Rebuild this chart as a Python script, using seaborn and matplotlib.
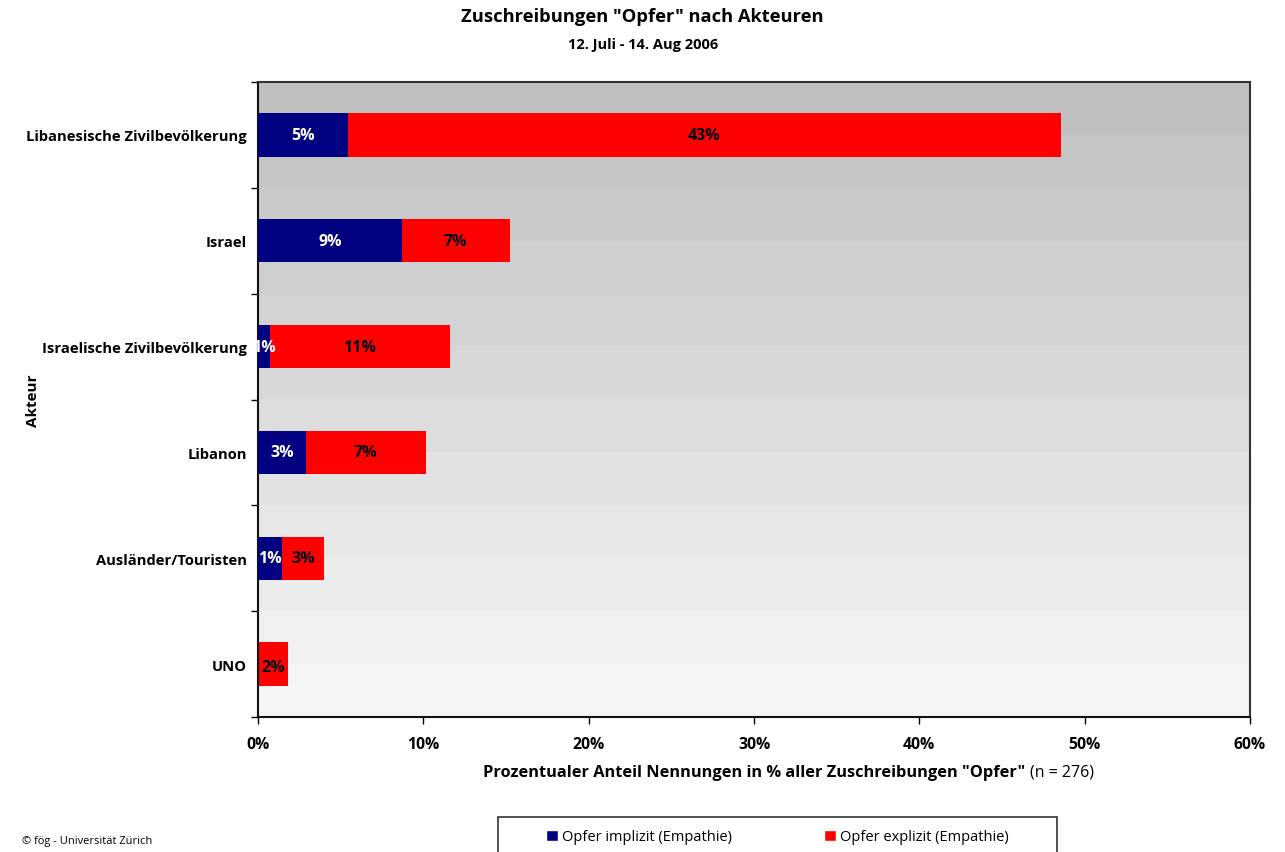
import numpy as np
import pandas as pd
import matplotlib.pyplot as plt
import seaborn as sns
from matplotlib.patches import Patch, Rectangle


# Data (n = 276)
akteure = ['Libanesische Zivilbevölkerung', 'Israel', 'Israelische Zivilbevölkerung',
           'Libanon', 'Ausländer/Touristen', 'UNO']
implizit = [5.43, 8.70, 0.72, 2.90, 1.45, 0.0]
explizit = [43.12, 6.52, 10.87, 7.25, 2.54, 1.81]

df = pd.DataFrame({'akteur': akteure, 'implizit': implizit, 'explizit': explizit})
df['total'] = df['implizit'] + df['explizit']

sns.set_style('white')
plt.rcParams['font.family'] = ['Open Sans', 'DejaVu Sans']
plt.rcParams['text.color'] = 'black'
plt.rcParams['xtick.color'] = 'black'
plt.rcParams['ytick.color'] = 'black'
plt.rcParams['axes.labelcolor'] = 'black'

fig = plt.figure(figsize=(12.85, 8.53), dpi=100)
ax = fig.add_axes([258/1285, 1-718/853, (1250-258)/1285, (718-83)/853])

# stepped grey gradient background
bands = np.linspace(0.753, 0.96, 12).reshape(-1, 1)
ax.imshow(bands, cmap='gray', vmin=0, vmax=1, aspect='auto',
          extent=[0, 60, 5.5, -0.5], zorder=0, interpolation='nearest')

sns.barplot(data=df, x='total', y='akteur', orient='h', color='#ff0000',
            width=0.41, saturation=1, linewidth=0, ax=ax, zorder=2)
sns.barplot(data=df, x='implizit', y='akteur', orient='h', color='#000080',
            width=0.41, saturation=1, linewidth=0, ax=ax, zorder=3)

for i, row in df.iterrows():
    if row['implizit'] > 0:
        ax.text(row['implizit']/2, i, f"{round(row['implizit']):.0f}%", ha='center', va='center',
                color='white', fontsize=11.5, fontweight='bold', zorder=4)
    ax.text(row['implizit'] + row['explizit']/2, i + (0.03 if row['implizit'] == 0 else 0),
            f"{round(row['explizit']):.0f}%", ha='center', va='center',
            color='black', fontsize=11.5, fontweight='bold', zorder=4)

ax.set_xlim(0, 60)
ax.set_ylim(5.5, -0.5)
ax.set_xticks(range(0, 61, 10))
ax.set_xticklabels([f'{v}%' for v in range(0, 61, 10)], fontsize=11.3, fontweight='bold')
ax.set_yticks(range(len(akteure)))
ax.set_yticklabels(akteure, fontsize=10.6, fontweight='bold')
ax.tick_params(axis='y', length=0, pad=8)
ax.tick_params(axis='x', length=5, width=1, direction='out', pad=9, bottom=True)
ax.set_yticks(np.arange(-0.5, 6, 1), minor=True)
ax.tick_params(axis='y', which='minor', length=5, width=1, direction='out', left=True)
ax.set_xlabel('')
ax.set_ylabel('Akteur', fontsize=11, fontweight='bold')
ax.yaxis.set_label_coords(-0.22, 0.5)

for side in ['left', 'bottom']:
    ax.spines[side].set_color('#111111')
    ax.spines[side].set_linewidth(1.5)
for side in ['top', 'right']:
    ax.spines[side].set_color('#333333')
    ax.spines[side].set_linewidth(1.5)

fig.text(642/1285, 1-17/853, 'Zuschreibungen "Opfer" nach Akteuren', ha='center', va='center',
         fontsize=13.2, fontweight='bold')
fig.text(643/1285, 1-45/853, '12. Juli - 14. Aug 2006', ha='center', va='center',
         fontsize=10.5, fontweight='bold')

fig.text(1025/1285, 1-773/853, 'Prozentualer Anteil Nennungen in % aller Zuschreibungen "Opfer"',
         ha='right', va='center', fontsize=11.8, fontweight='bold')
fig.text(1030/1285, 1-773/853, '(n = 276)', ha='left', va='center', fontsize=11.5)

fig.text(22/1285, 1-842/853, '© fög - Universität Zürich', ha='left', va='center', fontsize=8)

# legend box (runs off the bottom edge like the original)
fig.patches.append(Rectangle((498/1285, -0.02), (1057-498)/1285, 0.02 + 1-818/853,
                             transform=fig.transFigure, facecolor='white',
                             edgecolor='#333333', linewidth=1.2, zorder=1))
handles = [Patch(facecolor='#000080', label='Opfer implizit (Empathie)'),
           Patch(facecolor='#ff0000', label='Opfer explizit (Empathie)')]
leg = fig.legend(handles=handles, ncol=2, loc='center left', bbox_to_anchor=(546/1285, 1-838/853),
                 frameon=False, fontsize=10.5, handlelength=0.8, handleheight=0.8,
                 handletextpad=0.3, columnspacing=6.3, borderpad=0, borderaxespad=0)

fig.savefig('out.png', dpi=100)
